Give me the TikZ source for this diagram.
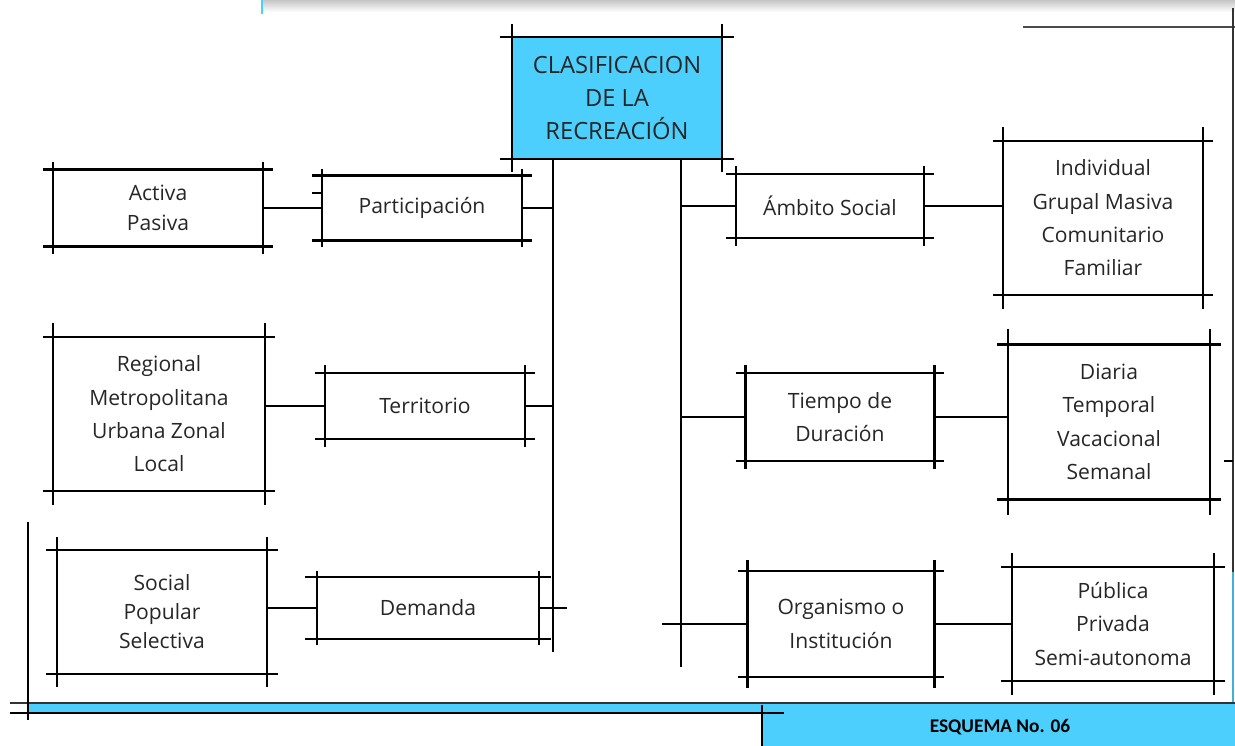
\documentclass[tikz,border=0pt]{standalone}
\usepackage{fontspec}
\setmainfont{Open Sans}
\newfontfamily\tagfont{Carlito}
\definecolor{skyfill}{HTML}{4DCFFE}
\newcommand{\boxfont}{\fontsize{12}{19}\selectfont}
\begin{document}
\begin{tikzpicture}[x=0.02cm, y=-0.02cm, line width=1.3pt,
	box/.style={rectangle, inner sep=0pt, outer sep=0pt, align=center, text=black!85, font=\boxfont}]
		\useasboundingbox (0,0) rectangle (1235,746);
		% page decoration
		\shade[top color=gray!45, bottom color=white] (262,0) rectangle (1235,12);
		\draw[skyfill, line width=0.8pt] (262,0) -- (262,14);
		\draw[black!70] (1023,27) -- (1235,27);
		\draw[black!80] (1233,8) -- (1233,572);
		\draw[skyfill!85!black] (1233,572) -- (1233,703);
		\draw (1224,461) -- (1233,461);
		\fill[skyfill] (28,703) rectangle (1235,713);
		\fill[skyfill] (762,713) rectangle (1235,746);
		\draw[black!80] (10,703) -- (1235,703);
		\draw[line width=0.8pt] (10,713) -- (784,713);
		\draw[line width=0.8pt] (28,522) -- (28,720);
		\draw[line width=0.8pt] (762,705) -- (762,746);
		\node[font=\tagfont\bfseries\fontsize{11}{12}\selectfont] (tag) at (1000,727) {ESQUEMA No. 06};
		% boxes
		\node[box, font=\fontsize{13.5}{19}\selectfont, fill=skyfill, minimum width=4.2cm, minimum height=2.44cm] (cent) at (617,98) {CLASIFICACION\\DE LA\\RECREACIÓN};
		\node[box, font=\fontsize{12}{17}\selectfont, minimum width=4.2cm, minimum height=1.54cm] (act) at (158,208) {Activa\\Pasiva};
		\node[box, minimum width=4.0cm, minimum height=1.3cm] (par) at (422,208) {Participación};
		\node[box, minimum width=4.24cm, minimum height=3.08cm] (reg) at (159,414) {Regional\\Metropolitana\\Urbana Zonal\\Local};
		\node[box, minimum width=4.0cm, minimum height=1.32cm] (ter) at (425,406) {Territorio};
		\node[box, font=\fontsize{12}{16.5}\selectfont, minimum width=4.2cm, minimum height=2.48cm] (soc) at (162,612) {Social\\Popular\\Selectiva};
		\node[box, minimum width=4.44cm, minimum height=1.24cm] (dem) at (428,608) {Demanda};
		\node[box, minimum width=3.76cm, minimum height=1.28cm] (amb) at (830,206) {Ámbito Social};
		\node[box, minimum width=4.0cm, minimum height=3.08cm] (ind) at (1103,218) {Individual\\Grupal Masiva\\Comunitario\\Familiar};
		\node[box, minimum width=3.78cm, minimum height=1.76cm] (tie) at (840,417) {Tiempo de\\Duración};
		\node[box, minimum width=4.04cm, minimum height=3.1cm] (dia) at (1109,422) {Diaria\\Temporal\\Vacacional\\Semanal};
		\node[box, minimum width=3.74cm, minimum height=2.12cm] (org) at (841,624) {Organismo o\\Institución};
		\node[box, minimum width=4.04cm, minimum height=2.28cm] (pub) at (1113,624) {Pública\\Privada\\Semi-autonoma};
		% crossed corners
		\foreach \n/\h/\v in {cent/12/13, act/10/8, par/10/7, reg/10/14, ter/10/8, soc/11/13, dem/12/6,
				amb/10/8, ind/10/14, tie/10/8, dia/11/16, org/10/11, pub/11/14} {
			\draw ([shift={(-\h,0)}]\n.north west) -- ([shift={(\h,0)}]\n.north east);
			\draw ([shift={(-\h,0)}]\n.south west) -- ([shift={(\h,0)}]\n.south east);
			\draw ([shift={(0,-\v)}]\n.north west) -- ([shift={(0,\v)}]\n.south west);
			\draw ([shift={(0,-\v)}]\n.north east) -- ([shift={(0,\v)}]\n.south east);
		}
		\draw ([shift={(0,-15)}]par.west) -- ++(-10,0);
		% trunks
		\coordinate (lb) at (553,652);
		\coordinate (rb) at (681,667);
		\coordinate (ot) at (662,624);
		\draw (lb |- cent.south) -- (lb);
		\draw (rb |- cent.south) -- (rb);
		% connectors
		\draw (act) -- (par);
		\draw (par.east) -- (par.east -| lb);
		\draw (ter.west) -- (ter.west -| reg.east);
		\draw (ter.east) -- (ter.east -| lb);
		\draw (dem.west) -- (dem.west -| soc.east);
		\draw (dem.east) -- ++(28,0);
		\draw (amb.west -| rb) -- (amb.west);
		\draw (amb.east) -- (amb.east -| ind.west);
		\draw (tie.west -| rb) -- (tie.west);
		\draw (tie.east) -- (tie.east -| dia.west);
		\draw (ot) -- (org.west);
		\draw (org) -- (pub);
	\end{tikzpicture}
\end{document}
